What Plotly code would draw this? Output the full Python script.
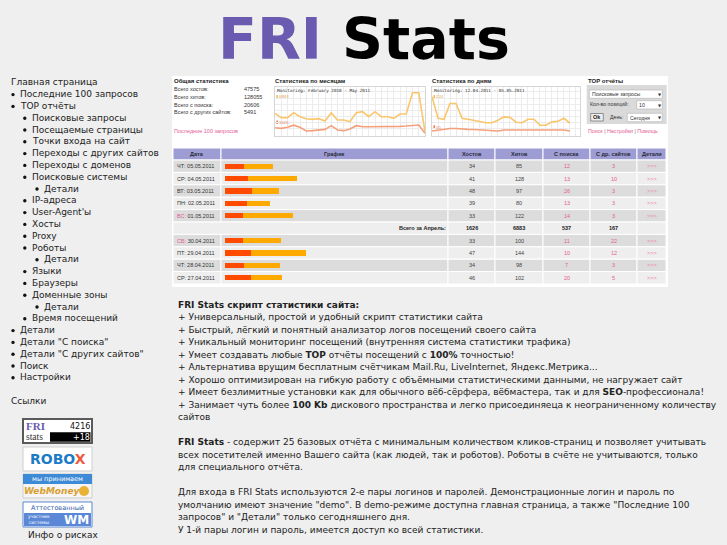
import plotly.graph_objects as go

W, H = 727, 545

# ---------------- data ----------------
table_headers = ['Дата', 'График', 'Хостов', 'Хитов', 'С поиска', 'С др. сайтов', 'Детали']
table_dates = ['ЧТ: 05.05.2011', 'СР: 04.05.2011', 'ВТ: 03.05.2011', 'ПН: 02.05.2011', 'ВС: 01.05.2011',
               'СБ: 30.04.2011', 'ПТ: 29.04.2011', 'ЧТ: 28.04.2011', 'СР: 27.04.2011']
hosts = [34, 41, 48, 39, 33, 33, 47, 34, 46]
hits = [85, 128, 97, 80, 122, 100, 144, 98, 102]
from_search = [12, 13, 26, 13, 14, 11, 10, 7, 20]
from_sites = [3, 10, 3, 3, 3, 22, 12, 3, 5]
total_label = 'Всего за Апрель:'
april_totals = [1626, 6883, 537, 167]
details_text = '>>>'

summary_labels = ['Всего хостов:', 'Всего хитов:', 'Всего с поиска:', 'Всего с других сайтов:']
summary_values = [47575, 128055, 20606, 5491]

month_hits = [3523, 2818, 2818, 3631, 2981, 2656, 2547, 2656, 2276, 3631, 2439, 2439, 2168,
              3631, 3794, 2981, 3794, 2981, 2981, 2710, 3415, 3415, 6883, 6883, 542]
month_hosts = [1192, 1084, 1247, 1600, 1247, 650, 705, 813, 921, 1518, 813, 705, 976,
               1518, 1355, 1355, 1355, 1300, 1300, 1355, 1410, 1464, 1570, 1626, 271]
day_hits = [224, 98, 92, 184, 184, 98, 92, 86, 77, 72, 72, 86, 106, 103, 75, 72,
            92, 92, 57, 57, 77, 80, 98, 70]
day_hosts = [23, 29, 34, 38, 38, 34, 33, 32, 29, 26, 25, 23, 29, 29, 26, 25,
             25, 25, 27, 29, 29, 26, 29, 23]
day_hosts_label = 55

nav_items = [
    (0, 'Главная страница'), (1, 'Последние 100 запросов'), (1, 'TOP отчёты'),
    (2, 'Поисковые запросы'), (2, 'Посещаемые страницы'), (2, 'Точки входа на сайт'),
    (2, 'Переходы с других сайтов'), (2, 'Переходы с доменов'), (2, 'Поисковые системы'),
    (3, 'Детали'), (2, 'IP-адреса'), (2, "User-Agent'ы"), (2, 'Хосты'), (2, 'Proxy'),
    (2, 'Роботы'), (3, 'Детали'), (2, 'Языки'), (2, 'Браузеры'), (2, 'Доменные зоны'),
    (3, 'Детали'), (2, 'Время посещений'), (1, 'Детали'), (1, 'Детали "С поиска"'),
    (1, 'Детали "С других сайтов"'), (1, 'Поиск'), (1, 'Настройки'),
]

body_lines = {
    0: '<b>FRI Stats скрипт статистики сайта:</b>',
    1: '+ Универсальный, простой и удобный скрипт статистики сайта',
    2: '+ Быстрый, лёгкий и понятный анализатор логов посещений своего сайта',
    3: '+ Уникальный мониторинг посещений (внутренняя система статистики трафика)',
    4: '+ Умеет создавать любые <b>TOP</b> отчёты посещений с <b>100%</b> точностью!',
    5: '+ Альтернатива врущим бесплатным счётчикам Mail.Ru, LiveInternet, Яндекс.Метрика...',
    6: '+ Хорошо оптимизирован на гибкую работу с объёмными статистическими данными, не нагружает сайт',
    7: '+ Имеет безлимитные установки как для обычного вёб-сёрфера, вёбмастера, так и для <b>SEO</b>-профессионала!',
    8: '+ Занимает чуть более <b>100 Kb</b> дискового пространства и легко присоединяеца к неограниченному количеству',
    9: 'сайтов',
    11: '<b>FRI Stats</b> - содержит 25 базовых отчёта с минимальным количеством кликов-страниц и позволяет учитывать',
    12: 'всех посетителей именно Вашего сайта (как людей, так и роботов). Роботы в счёте не учитываются, только',
    13: 'для специального отчёта.',
    15: 'Для входа в FRI Stats используются 2-е пары логинов и паролей. Демонстрационные логин и пароль по',
    16: 'умолчанию имеют значение "demo". В demo-режиме доступна главная страница, а также "Последние 100',
    17: 'запросов" и "Детали" только сегодняшнего дня.',
    18: 'У 1-й пары логин и пароль, имеется доступ ко всей статистики.',
}

# ---------------- helpers ----------------
ann = []
shapes = []
PINK = '#e45c94'
SANS = 'DejaVu Sans'
SMALL = 'Liberation Sans'


def T(x, y, text, size=9, color='#222222', anchor='left', family=SANS, yanchor='middle'):
    ann.append(dict(x=x / W, y=1 - y / H, xref='paper', yref='paper', text=text, showarrow=False,
                    xanchor=anchor, yanchor=yanchor, borderpad=0, borderwidth=0,
                    font=dict(size=size, color=color, family=family)))


def R(x0, y0, x1, y1, fill, line=None, lw=0):
    shapes.append(dict(type='rect', xref='paper', yref='paper', x0=x0 / W, x1=x1 / W,
                       y0=1 - y1 / H, y1=1 - y0 / H, fillcolor=fill,
                       line=dict(color=line or fill, width=lw), layer='below'))


def C(cx, cy, r, fill):
    shapes.append(dict(type='circle', xref='paper', yref='paper', x0=(cx - r) / W, x1=(cx + r) / W,
                       y0=1 - (cy + r) / H, y1=1 - (cy - r) / H, fillcolor=fill,
                       line=dict(width=0), layer='below'))


# ---------------- title ----------------
T(363.5, 39, '<b><span style="color:#6a5bb0">FRI</span> Stats</b>', size=57, color='#000000',
  anchor='center', family='DejaVu Sans')

# ---------------- left navigation ----------------
text_x = {0: 11, 1: 20, 2: 31.7, 3: 44}
bullet_x = {1: 13, 2: 24.8, 3: 37}
for i, (lvl, label) in enumerate(nav_items):
    y = 82.3 + 11.8 * i
    if lvl > 0:
        C(bullet_x[lvl], y + 0.5, 1.7, '#111111')
    T(text_x[lvl], y, label, size=9)

T(11, 401, 'Ссылки', size=9)

# counter badge
R(23, 419, 92, 443, 'white', '#5a5a5a', 2)
T(26, 426.3, '<b>FRI</b>', size=11, color='#6a5bb0', family='Liberation Serif')
T(26, 437, 'stats', size=9.5, color='#333333', family='Liberation Serif')
T(89.5, 426.3, '4216', size=8, color='#111111', anchor='right')
R(50, 432.3, 90.5, 441.7, '#000000')
T(89.5, 437, '+18', size=8, color='#ffffff', anchor='right')

# ROBOX badge
R(23, 447, 92, 471, 'white', '#cfcfcf', 1)
T(57.5, 459.3, '<b><span style="color:#1b7bc6">ROBO</span><span style="color:#ef5a3c">X</span></b>',
  size=14, anchor='center')

# WebMoney badge
R(23, 474, 92, 498, '#f5f5f5', '#cfcfcf', 1)
R(23, 474, 92, 484, '#3d8ad6')
T(57.5, 479.2, 'мы принимаем', size=6.5, color='#ffffff', anchor='center')
T(52, 491.3, '<b><i>WebMoney</i></b>', size=9, color='#d9a030', anchor='center')
C(84, 491, 5, '#e9b233')

# attestation badge
R(23, 502, 92, 527, '#ffffff', '#5b86d0', 1)
T(57.5, 507.8, 'Аттестованный', size=6.5, color='#2d5aa8', anchor='center')
R(24, 513, 91, 526, '#5b88d6')
T(39, 519.5, 'участник<br>системы', size=4.5, color='#ffffff', anchor='center')
T(76, 519.5, '<b>WM</b>', size=12, color='#ffffff', anchor='center')

T(28, 535, 'Инфо о рисках', size=9)

# ---------------- screenshot panel ----------------
R(172, 76, 668, 287, '#ffffff')

# general stats
T(174, 81.3, '<b>Общая статистика</b>', size=6, color='#222222', family=SMALL)
for i, (lab, val) in enumerate(zip(summary_labels, summary_values)):
    y = 89.3 + 7.65 * i
    T(174, y, lab, size=5.5, color='#333333', family=SMALL)
    T(244, y, str(val), size=5.5, color='#333333', family=SMALL)
T(174, 131.3, 'Последние 100 запросов', size=5.5, color=PINK, family=SMALL)

# mini chart titles
T(275, 81.3, '<b>Статистика по месяцам</b>', size=6, color='#222222', family=SMALL)
T(432, 81.3, '<b>Статистика по дням</b>', size=6, color='#222222', family=SMALL)
R(275, 86.5, 425, 135.5, '#ffffff')
R(432, 86.5, 580, 135.5, '#ffffff')
T(277, 90, 'Monitoring: February 2010 - May 2011', size=4.3, color='#333333', family='DejaVu Sans Mono')
T(434, 90, 'Monitoring: 12.04.2011 - 05.05.2011', size=4.3, color='#333333', family='DejaVu Sans Mono')
# peak labels
R(276.5, 95, 277.8, 98.5, '#f5b040')
T(279, 96.7, str(max(month_hits)), size=4.3, color='#e0a860', family=SMALL)
R(276.5, 120.5, 277.8, 124, '#f06030')
T(279, 122.3, str(max(month_hosts)), size=4.3, color='#e08060', family=SMALL)
R(433.5, 95, 434.8, 98.5, '#f5b040')
T(436, 96.7, str(max(day_hits)), size=4.3, color='#e0a860', family=SMALL)
R(433.5, 125.3, 434.8, 128.8, '#f06030')
T(436, 127, str(day_hosts_label), size=4.3, color='#e08060', family=SMALL)

# TOP reports panel
T(587.5, 81.3, '<b>TOP отчёты</b>', size=6, color='#222222', family=SMALL)
R(586.7, 85, 666.7, 124, '#dadada')
R(589.3, 90, 662.3, 98.3, '#ffffff', '#b0b0b0', 0.6)
T(592, 94.2, 'Поисковые запросы', size=5.2, color='#333333', family=SMALL)
T(659.5, 94.5, '▼', size=4, color='#333333', anchor='center')
T(590, 104.5, 'Кол-во позиций:', size=5.2, color='#333333', family=SMALL)
R(636.7, 100.7, 662.3, 109, '#ffffff', '#b0b0b0', 0.6)
T(639, 104.9, '10', size=5.2, color='#333333', family=SMALL)
T(659.5, 105.2, '▼', size=4, color='#333333', anchor='center')
R(590.7, 113.5, 603.3, 121, '#eeeeee', '#777777', 0.8)
T(597, 117.3, '<b>Ok</b>', size=5.5, color='#222222', anchor='center', family=SMALL)
T(609.5, 117.3, 'День:', size=5.2, color='#333333', family=SMALL)
R(627.3, 113.3, 662.3, 121.7, '#ffffff', '#b0b0b0', 0.6)
T(629.5, 117.5, 'Сегодня', size=5.2, color='#333333', family=SMALL)
T(659.5, 117.8, '▼', size=4, color='#333333', anchor='center')
T(588.3, 131.3, '<span style="color:%s">Поиск</span> | <span style="color:%s">Настройки</span> | '
  '<span style="color:%s">Помощь</span>' % (PINK, PINK, PINK), size=5.3, color='#777777', family=SMALL)

# ---------------- table ----------------
col_edges = [173, 221, 448, 495, 543, 590, 637, 666]
hdr_top, hdr_bot, row_h = 148, 160, 12.4
HDR = '#9d9dd4'
DARK, LIGHT = '#dcdcdc', '#eeeeee'

for c in range(len(table_headers)):
    R(col_edges[c], hdr_top, col_edges[c + 1], hdr_bot, HDR, '#ffffff', 1)
    T((col_edges[c] + col_edges[c + 1]) / 2, 154, '<b>%s</b>' % table_headers[c], size=5.5,
      color='#2a2a3a', anchor='center', family=SMALL)

rows = table_dates[:5] + [total_label] + table_dates[5:]
for r, label in enumerate(rows):
    y0 = hdr_bot + row_h * r
    yc = y0 + row_h / 2
    fill = DARK if r % 2 == 0 else LIGHT
    if label == total_label:
        R(col_edges[0], y0, col_edges[2], y0 + row_h, fill, '#ffffff', 1)
        for c in range(2, 7):
            R(col_edges[c], y0, col_edges[c + 1], y0 + row_h, fill, '#ffffff', 1)
        T(col_edges[2] - 2, yc, '<b>%s</b>' % total_label, size=5.5, color='#222222', anchor='right', family=SMALL)
        for c, v in enumerate(april_totals):
            T((col_edges[c + 2] + col_edges[c + 3]) / 2, yc, '<b>%d</b>' % v, size=5.5, color='#222222',
              anchor='center', family=SMALL)
        continue
    k = table_dates.index(label)
    for c in range(7):
        R(col_edges[c], y0, col_edges[c + 1], y0 + row_h, fill, '#ffffff', 1)
    day, date = label.split(' ')
    if day in ('ВС:', 'СБ:'):
        txt = '<span style="color:%s">%s</span> %s' % (PINK, day, date)
    else:
        txt = label
    T(176.5, yc, txt, size=5.5, color='#333333', family=SMALL)
    vals = [(hosts[k], '#444444'), (hits[k], '#444444'), (from_search[k], PINK), (from_sites[k], PINK)]
    for c, (v, col) in enumerate(vals):
        T((col_edges[c + 2] + col_edges[c + 3]) / 2, yc, str(v), size=5.5, color=col, anchor='center', family=SMALL)
    T((col_edges[6] + col_edges[7]) / 2, yc, details_text, size=5.5, color='#ec7aa8', anchor='center', family=SMALL)

# ---------------- body text ----------------
for k, line in body_lines.items():
    T(177.5, 304.5 + 12.5 * k, line, size=9)

# ---------------- figure & traces ----------------
fig = go.Figure()

# table bars
fig.add_trace(go.Bar(y=table_dates, x=hits, orientation='h', marker=dict(color='#ffaa00', line=dict(width=0)),
                     width=0.43, xaxis='x2', yaxis='y2', hoverinfo='skip'))
fig.add_trace(go.Bar(y=table_dates, x=hosts, orientation='h', marker=dict(color='#ff4a00', line=dict(width=0)),
                     width=0.43, xaxis='x2', yaxis='y2', hoverinfo='skip'))

# monthly mini chart
fig.add_trace(go.Scatter(x=list(range(len(month_hits))), y=month_hits, mode='lines',
                         line=dict(color='#f9c66b', width=1.6), xaxis='x3', yaxis='y3', hoverinfo='skip'))
fig.add_trace(go.Scatter(x=list(range(len(month_hosts))), y=month_hosts, mode='lines',
                         line=dict(color='#f4a07c', width=1.6), xaxis='x3', yaxis='y3', hoverinfo='skip'))
# daily mini chart
fig.add_trace(go.Scatter(x=list(range(len(day_hits))), y=day_hits, mode='lines',
                         line=dict(color='#f9c66b', width=1.6), xaxis='x4', yaxis='y4', hoverinfo='skip'))
fig.add_trace(go.Scatter(x=list(range(len(day_hosts))), y=day_hosts, mode='lines',
                         line=dict(color='#f4a07c', width=1.6), xaxis='x4', yaxis='y4', hoverinfo='skip'))


def dom_x(a, b):
    return [a / W, b / W]


def dom_y(top, bottom):
    return [1 - bottom / H, 1 - top / H]


hidden = dict(showgrid=False, zeroline=False, showticklabels=False, ticks='', showline=False)
grid = dict(showgrid=True, gridcolor='#ececec', gridwidth=1, zeroline=False, showticklabels=False,
            ticks='', showline=True, mirror=True, linecolor='#d6d6d6', linewidth=1)

fig.update_layout(
    width=W, height=H, autosize=False,
    margin=dict(l=0, r=0, t=0, b=0, pad=0),
    paper_bgcolor='#efefef', plot_bgcolor='rgba(0,0,0,0)',
    showlegend=False, barmode='overlay', bargap=0,
    xaxis=dict(visible=False, domain=[0, 0.001]), yaxis=dict(visible=False, domain=[0, 0.001]),
    xaxis2=dict(domain=dom_x(225, 448), range=[0, 398], anchor='y2', **hidden),
    yaxis2=dict(domain=dom_y(hdr_bot, hdr_bot + row_h * len(rows)), type='category',
                categoryorder='array', categoryarray=rows, range=[len(rows) - 0.5, -0.5],
                anchor='x2', **hidden),
    xaxis3=dict(domain=dom_x(275, 425), range=[0, 24], dtick=1, tick0=0, anchor='y3', **grid),
    yaxis3=dict(domain=dom_y(86.5, 135.5), range=[-80, 7890], dtick=1000, tick0=0, anchor='x3', **grid),
    xaxis4=dict(domain=dom_x(432, 580), range=[0, 24.67], dtick=1, tick0=0, anchor='y4', **grid),
    yaxis4=dict(domain=dom_y(86.5, 135.5), range=[-3, 284], dtick=36, tick0=0, anchor='x4', **grid),
    shapes=shapes, annotations=ann,
)

fig.write_html('out.html', config={'displayModeBar': False},
               post_script="document.body.style.margin='0';document.body.style.overflow='hidden';"
                           "document.documentElement.style.background='#efefef';")
